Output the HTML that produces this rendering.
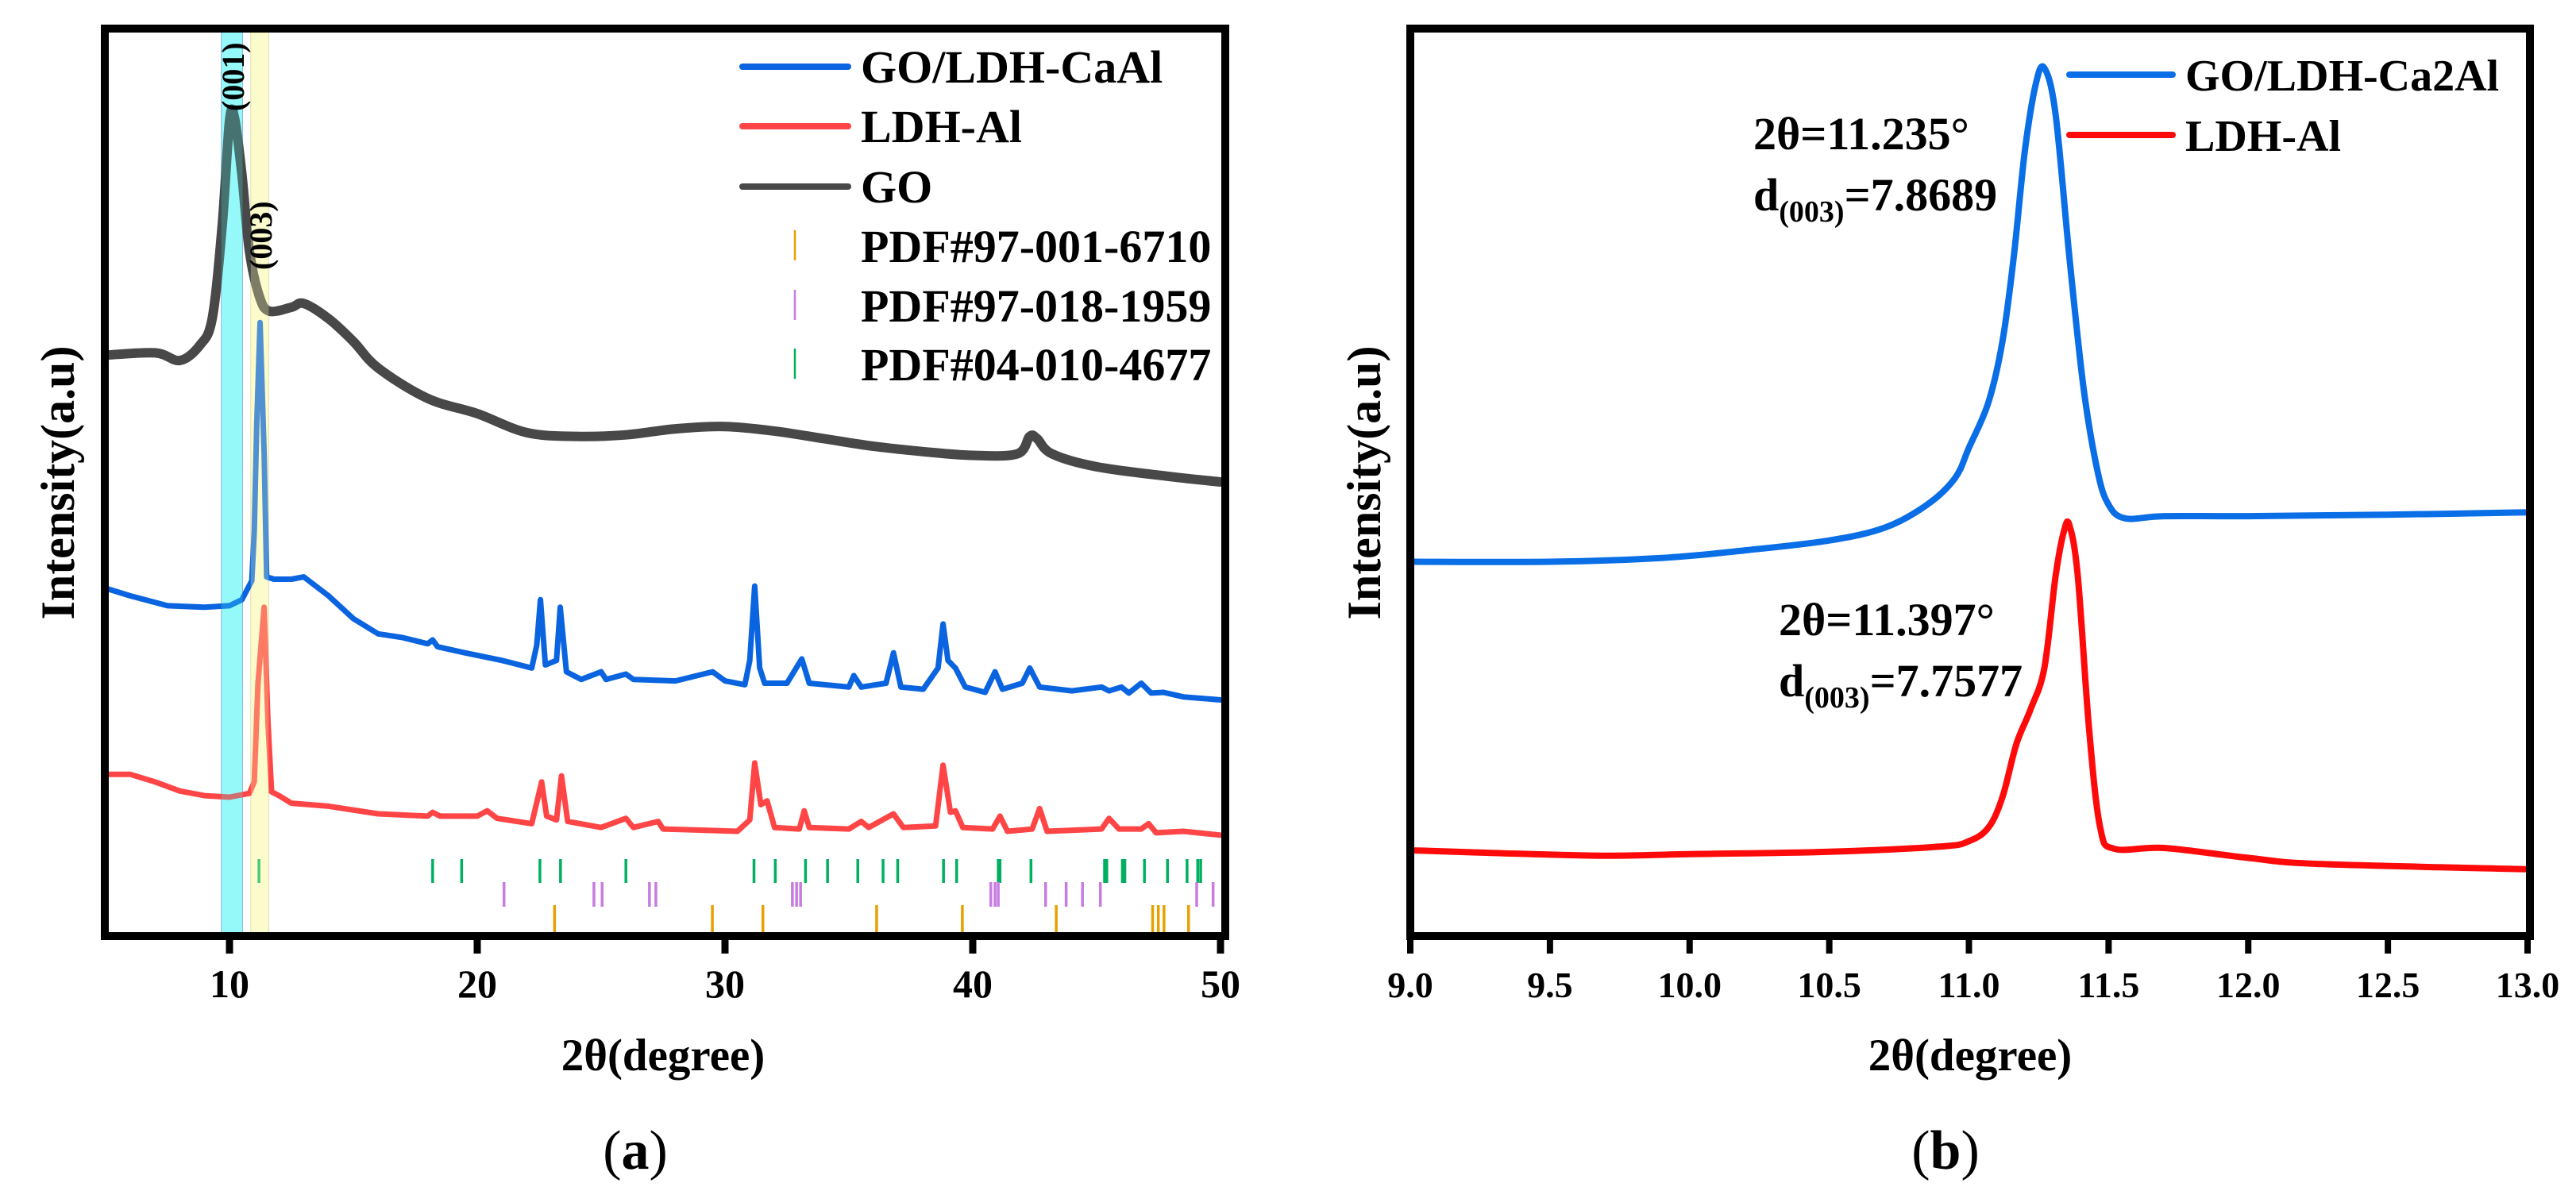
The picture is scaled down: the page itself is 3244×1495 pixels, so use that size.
<!DOCTYPE html>
<html><head><meta charset="utf-8"><style>
html,body{margin:0;padding:0;background:#fff;}
svg{display:block;font-family:"Liberation Serif",serif;}
</style></head><body>
<svg id="fig" width="3244" height="1495" viewBox="0 0 3244 1495"></svg>
<script>
// ---------- Panel (a) data ----------
const aGoX=[5,7,8,8.8,9.3,9.7,10,10.2,10.5,10.8,11.2,11.6,12.5,13,14,15,16,18,20,22,24,26,28,30,32,34,36,38,40,41.8,42.3,42.6,43.2,45,48,50];
const aGoI=[732,735,725,745,780,900,1040,1045,970,870,810,790,795,800,780,750,715,675,655,630,625,627,635,638,632,622,612,605,600,602,625,622,602,585,572,565];
const aBlueX=[5,6,7.5,9,10,10.5,10.9,11,11.1,11.235,11.4,11.5,11.8,12.5,13,14,15,16,17,18,18.2,18.4,19.5,21,22.2,22.4,22.55,22.75,23.2,23.35,23.6,24.2,25,25.2,26,26.3,28,29.5,30,30.8,31,31.2,31.4,31.6,32.5,33.1,33.4,35,35.2,35.5,36.5,36.8,37.1,38,38.6,38.8,39,39.3,39.7,40.5,40.9,41.2,42,42.3,42.7,44,45.2,45.5,46,46.3,46.8,47.2,47.7,48.5,50];
const aBlueI=[425,415,402,400,402,410,435,500,640,775,600,440,437,437,440,415,385,365,360,352,357,348,340,330,320,350,410,324,330,400,315,305,315,305,312,305,303,315,303,298,330,428,320,300,300,332,300,295,310,295,300,340,295,292,320,378,330,320,295,288,315,292,300,320,295,290,295,290,295,287,300,287,288,282,278];
const aRedX=[5,6,7,8,9,10,10.8,11,11.15,11.397,11.55,11.7,12,12.5,14,16,18,18.2,18.5,20,20.4,20.8,22.2,22.6,22.8,23.2,23.4,23.65,25,26,26.3,27.3,27.5,30.5,31,31.2,31.45,31.7,32,33,33.2,33.4,35,35.5,35.8,36.8,37.2,38.5,38.8,39.1,39.3,39.6,40.8,41.1,41.4,42.4,42.7,43,45.2,45.5,45.9,46.8,47.1,47.4,48.5,50];
const aRedI=[180,180,170,158,152,150,155,170,300,400,250,157,152,142,138,128,125,130,125,125,132,122,115,170,125,120,178,118,110,122,110,118,108,105,120,195,140,145,110,108,132,110,108,118,110,128,110,112,192,130,132,110,108,125,105,108,135,105,108,122,108,108,115,103,105,100];
const refGreen=[11.19,18.2,19.37,22.53,23.36,26.0,31.17,32.03,33.25,34.14,35.36,36.38,36.97,38.82,39.35,41.03,41.1,42.35,45.32,45.41,46.04,46.14,46.93,47.86,48.65,49.08,49.2];
const refPurple=[21.08,24.71,25.04,26.95,27.21,32.72,32.89,33.05,40.73,40.9,41.03,42.94,43.77,44.43,45.15,49.04,49.7];
const refOrange=[23.12,29.49,31.53,36.12,39.58,43.37,47.26,47.49,47.72,48.71];
const aTicks=[10,20,30,40,50];
// ---------- Panel (b) data ----------
const bBlueX=[9,9.5,9.9,10.2,10.5,10.7,10.85,10.95,11,11.07,11.12,11.16,11.2,11.24,11.27,11.31,11.36,11.41,11.46,11.5,11.56,11.7,12,12.5,13];
const bBlueI=[460,460,465,475,488,505,535,570,610,670,750,860,1000,1090,1110,1050,860,690,580,535,517,520,520,522,525];
const bRedX=[9,9.65,10,10.5,10.9,11,11.07,11.12,11.17,11.22,11.27,11.31,11.34,11.36,11.39,11.43,11.47,11.52,11.7,12,12.25,13];
const bRedI=[80,73,75,78,85,92,110,150,220,265,320,440,500,508,440,240,110,82,83,70,62,55];
const bTicks=[9.0,9.5,10.0,10.5,11.0,11.5,12.0,12.5,13.0];

const NS="http://www.w3.org/2000/svg";
const svg=document.getElementById('fig');
function mk(tag,attrs,parent){const e=document.createElementNS(NS,tag);for(const k in attrs)e.setAttribute(k,attrs[k]);(parent||svg).appendChild(e);return e;}
function lin(d0,d1,r0,r1){return v=>r0+(v-d0)*(r1-r0)/(d1-d0);}
const PT=36,PB=1179;
const yI=lin(-33,1162,PB,PT);

// ===== Panel a =====
const aL=133,aR=1537;
const xa=lin(5,50,aL,aR);
const ga=mk('g',{});


let r=mk('rect',{x:xa(9.67),y:PT,width:xa(10.53)-xa(9.67),height:PB-PT,fill:'#b3fcfc',stroke:'#9ad',"stroke-width":1},ga);

r=mk('rect',{x:xa(10.86),y:PT,width:xa(11.58)-xa(10.86),height:PB-PT,fill:'#fdfdd8',stroke:'#dda',"stroke-width":1},ga);

function refRow(arr,y0,y1,color,name){arr.forEach(v=>{const l=mk('line',{x1:xa(v),x2:xa(v),y1:y0,y2:y1,stroke:color,"stroke-width":3.5},ga);

});}
refRow(refGreen,1082,1112,'#00b060','ref-tick-04-010-4677');
refRow(refPurple,1111,1142,'#c77ce0','ref-tick-97-018-1959');
refRow(refOrange,1140,1174,'#e8a000','ref-tick-97-001-6710');
function path(xs,is,xs_,col,w,name,g,smooth){
const P=xs.map((x,i)=>[xs_(x),yI(is[i])]);
let d='M'+P[0][0].toFixed(1)+','+P[0][1].toFixed(1);
for(let i=0;i<P.length-1;i++){
 if(!smooth){d+='L'+P[i+1][0].toFixed(1)+','+P[i+1][1].toFixed(1);continue;}
 const p0=P[Math.max(0,i-1)],p1=P[i],p2=P[i+1],p3=P[Math.min(P.length-1,i+2)];
 const c1=[p1[0]+(p2[0]-p0[0])/6,p1[1]+(p2[1]-p0[1])/6],c2=[p2[0]-(p3[0]-p1[0])/6,p2[1]-(p3[1]-p1[1])/6];
 d+='C'+c1[0].toFixed(1)+','+c1[1].toFixed(1)+' '+c2[0].toFixed(1)+','+c2[1].toFixed(1)+' '+p2[0].toFixed(1)+','+p2[1].toFixed(1);}
const p=mk('path',{d:d,fill:'none',stroke:col,"stroke-width":w,"stroke-linejoin":'round',"stroke-linecap":'round'},g);

}
path(aGoX,aGoI,xa,'#484848',12,'go-curve',ga,true);
path(aBlueX,aBlueI,xa,'#0a64e0',7,'go-ldh-caal-curve',ga,false);
path(aRedX,aRedI,xa,'#ff4545',7,'ldh-al-curve',ga,false);
mk('rect',{x:xa(9.67),y:PT,width:xa(10.53)-xa(9.67),height:PB-PT,fill:'#40f0f0',opacity:0.25},ga);
mk('rect',{x:xa(10.86),y:PT,width:xa(11.58)-xa(10.86),height:PB-PT,fill:'#f8f8b0',opacity:0.3},ga);
let t=mk('text',{x:0,y:0,transform:`translate(${xa(10.1)+15},${140}) rotate(-90)`,"font-size":40,"font-weight":'bold'},ga);t.textContent='(001)';

t=mk('text',{x:0,y:0,transform:`translate(${xa(11.22)+15},${340}) rotate(-90)`,"font-size":40,"font-weight":'bold'},ga);t.textContent='(003)';

function frame(L,R,g,name){const f=mk('rect',{x:L,y:PT,width:R-L,height:PB-PT,fill:'none',stroke:'#000',"stroke-width":10},g);
}
frame(aL-1,aR+6,ga,'plot-frame-a');
aTicks.forEach(v=>{mk('line',{x1:xa(v),x2:xa(v),y1:PB,y2:PB+22,stroke:'#000',"stroke-width":9},ga);
const tx=mk('text',{x:xa(v),y:1256,"text-anchor":'middle',"font-size":50,"font-weight":'bold'},ga);tx.textContent=v;

});
t=mk('text',{x:835,y:1348,"text-anchor":'middle',"font-size":57,"font-weight":'bold'},ga);t.textContent='2θ(degree)';

t=mk('text',{x:0,y:0,transform:'translate(93,608) rotate(-90)',"text-anchor":'middle',"font-size":60,"font-weight":'bold'},ga);t.textContent='Intensity(a.u)';

t=mk('text',{x:800,y:1472,"text-anchor":'middle',"font-size":70},ga);t.innerHTML='(<tspan font-weight="bold">a</tspan>)';

const legA=[['GO/LDH-CaAl','#0a64e0','line'],['LDH-Al','#ff4545','line'],['GO','#484848','line'],['PDF#97-001-6710','#e8a000','tick'],['PDF#97-018-1959','#c77ce0','tick'],['PDF#04-010-4677','#00b060','tick']];
const legAy=[76,151,227,302,377,451];
legA.forEach((e,i)=>{const g=mk('g',{},ga);


const y=legAy[i];
if(e[2]==='line')mk('line',{x1:935,x2:1068,y1:y+8,y2:y+8,stroke:e[1],"stroke-width":8,"stroke-linecap":'round'},g);
else mk('line',{x1:1001,x2:1001,y1:y-12,y2:y+26,stroke:e[1],"stroke-width":2.5},g);
const tt=mk('text',{x:1084,y:y+28,"font-size":58,"font-weight":'bold'},g);tt.textContent=e[0];});

// ===== Panel b =====
const bL=1776,bR=3183;
const xb=lin(9,13,bL,bR);
const gb=mk('g',{});


path(bBlueX,bBlueI,xb,'#0a6ee6',8,'go-ldh-ca2al-curve',gb,true);
path(bRedX,bRedI,xb,'#ff0a0a',8,'ldh-al-curve-b',gb,true);
frame(bL,bR+3,gb,'plot-frame-b');
bTicks.forEach(v=>{mk('line',{x1:xb(v),x2:xb(v),y1:PB,y2:PB+22,stroke:'#000',"stroke-width":8},gb);
const tx=mk('text',{x:xb(v),y:1256,"text-anchor":'middle',"font-size":46,"font-weight":'bold'},gb);tx.textContent=v.toFixed(1);

});
t=mk('text',{x:2481,y:1348,"text-anchor":'middle',"font-size":57,"font-weight":'bold'},gb);t.textContent='2θ(degree)';

t=mk('text',{x:0,y:0,transform:'translate(1738,608) rotate(-90)',"text-anchor":'middle',"font-size":60,"font-weight":'bold'},gb);t.textContent='Intensity(a.u)';

t=mk('text',{x:2450,y:1472,"text-anchor":'middle',"font-size":70},gb);t.innerHTML='(<tspan font-weight="bold">b</tspan>)';

function ann(x,y,a,b,name){const g=mk('g',{},gb);


const t1=mk('text',{x:x,y:y,"font-size":58,"font-weight":'bold'},g);t1.textContent=a;
const t2=mk('text',{x:x,y:y+77,"font-size":58,"font-weight":'bold'},g);t2.innerHTML='d<tspan font-size="38" dy="14">(003)</tspan><tspan dy="-14">='+b+'</tspan>';}
ann(2208,188,'2θ=11.235°','7.8689','annotation-go-ldh');
ann(2240,800,'2θ=11.397°','7.7577','annotation-ldh-al');
const legB=[['GO/LDH-Ca2Al','#0a6ee6'],['LDH-Al','#ff0a0a']];
const legBy=[94,170];
legB.forEach((e,i)=>{const g=mk('g',{},gb);


mk('line',{x1:2606,x2:2736,y1:legBy[i],y2:legBy[i],stroke:e[1],"stroke-width":8,"stroke-linecap":'round'},g);
const tt=mk('text',{x:2752,y:legBy[i]+20,"font-size":56,"font-weight":'bold'},g);tt.textContent=e[0];});
</script>
</body></html>
